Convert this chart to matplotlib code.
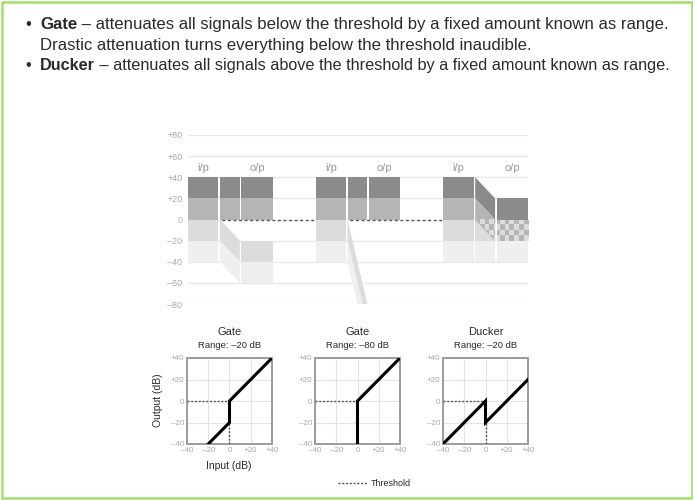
import numpy as np
import matplotlib
matplotlib.use('Agg')
import matplotlib.pyplot as plt
from matplotlib.patches import Polygon, Rectangle
from matplotlib.lines import Line2D

plt.rcParams['font.family'] = ['Liberation Sans', 'DejaVu Sans']

# ---- data ----
levels = [40, 20, 0, -20, -40]                       # input signal bands, dB
band_colors = ['#8b8b8b', '#b5b5b5', '#dcdcdc', '#efefef']
threshold = 0
modes = ['Gate', 'Gate', 'Ducker']
ranges = [-20, -80, -20]
main_ticks = [80, 60, 40, 20, 0, -20, -40, -60, -80]
small_ticks = [-40, -20, 0, 20, 40]
bullets = [
    ('Gate', ' \u2013 attenuates all signals below the threshold by a fixed amount known as range.'),
    (None, 'Drastic attenuation turns everything below the threshold inaudible.'),
    ('Ducker', ' \u2013 attenuates all signals above the threshold by a fixed amount known as range.'),
]

W, H = 693, 500
TXT = '#2b2b2b'
GREY = '#a8a8a8'


def box(l, t, r, b):
    return [l / W, 1 - b / H, (r - l) / W, (b - t) / H]


def fmt(v):
    if v > 0:
        return '+%d' % v
    if v < 0:
        return '\u2013%d' % -v
    return '0'


def shift(mode, rng, lo, hi):
    if mode == 'Gate' and hi <= threshold:
        return lo + rng, hi + rng
    if mode == 'Ducker' and lo >= threshold:
        return lo + rng, hi + rng
    return lo, hi


fig = plt.figure(figsize=(W / 100, H / 100), dpi=100)
fig.add_artist(Rectangle((1.5 / W, 2.5 / H), 690 / W, 496 / H, transform=fig.transFigure,
                         fill=False, edgecolor='#a3e06a', lw=1.8))

# ---- bullet text, each full line fitted to the reference width ----
renderer = fig.canvas.get_renderer()


def put_line(bold, rest, base, fs):
    made = []
    y = 1 - base / H
    x = 40 / W
    if bold:
        made.append(fig.text(28 / W, y, '\u2022', fontsize=fs, color=TXT, ha='center', va='baseline'))
        tb = fig.text(x, y, bold, fontsize=fs, color=TXT, weight='bold', va='baseline')
        made.append(tb)
        x = fig.transFigure.inverted().transform((tb.get_window_extent(renderer).x1, 0))[0]
    made.append(fig.text(x, y, rest, fontsize=fs, color=TXT, va='baseline'))
    return made


fs_used = 11
for (bold, rest), base in zip(bullets, [29, 50, 70]):
    if bold:
        trial = put_line(bold, rest, base, 11)
        right = trial[-1].get_window_extent(renderer).x1
        for t in trial:
            t.remove()
        fs_used = 11 * (667 - 40) / (right - 40)
    put_line(bold, rest, base, fs_used)

# ---- main level diagram ----
ax = fig.add_axes(box(188, 135, 528, 304))
group_x = [0, 128, 256]
ip, tr, op = (0, 30.5), (32, 52), (53.5, 85)
cell_x, cell_y = 5, 4.7

for x0, mode, rng in zip(group_x, modes, ranges):
    bands = []
    for i, c in enumerate(band_colors):
        lo, hi = levels[i + 1], levels[i]
        lo2, hi2 = shift(mode, rng, lo, hi)
        bands.append((lo, hi, lo2, hi2, c))
    ax.text(x0 + sum(ip) / 2, 49, 'i/p', ha='center', va='center', fontsize=8, color='#999999')
    ax.text(x0 + sum(op) / 2, 49, 'o/p', ha='center', va='center', fontsize=8, color='#999999')
    # unchanged bands first, moved bands on top of them
    order = sorted(bands, key=lambda b: b[0] != b[2])
    for lo, hi, lo2, hi2, c in order:
        ax.add_patch(Rectangle((x0 + ip[0], lo), ip[1] - ip[0], hi - lo, color=c, lw=0, zorder=2))
        p_tr = Polygon([(x0 + tr[0], hi), (x0 + tr[1], hi2), (x0 + tr[1], lo2), (x0 + tr[0], lo)],
                       closed=True, color=c, lw=0, zorder=2)
        p_op = Rectangle((x0 + op[0], lo2), op[1] - op[0], hi2 - lo2, color=c, lw=0, zorder=2)
        ax.add_patch(p_tr)
        ax.add_patch(p_op)
        if lo == lo2:
            continue
        # where a moved band lands on an unchanged one -> checker
        for ulo, uhi, ulo2, uhi2, uc in bands:
            if ulo != ulo2:
                continue
            y0, y1 = max(ulo, min(lo, lo2)), min(uhi, max(hi, hi2))
            if y1 <= y0:
                continue
            x_a, x_b = x0 + tr[0], x0 + op[1]
            nx = int(round((x_b - x_a) / cell_x))
            ny = int(round((y1 - y0) / cell_y))
            iy, ix = np.indices((ny, nx))
            rgb = np.array([matplotlib.colors.to_rgb(c), matplotlib.colors.to_rgb(uc)])
            img = rgb[(ix + iy) % 2]
            for patch in (p_tr, p_op):
                im = ax.imshow(img, extent=[x_a, x_b, y0, y1], aspect='auto',
                               interpolation='nearest', zorder=2.5)
                im.set_clip_path(patch)

# threshold line between the bars
ax.hlines(threshold, group_x[0] + tr[0] + 2, group_x[1], colors='#555555', lw=1,
          linestyles=(0, (2, 2)), zorder=3)
ax.hlines(threshold, group_x[1] + tr[0] + 2, group_x[2], colors='#555555', lw=1,
          linestyles=(0, (2, 2)), zorder=3)

ax.set_xlim(0, 341)
ax.set_ylim(-80, 80)
ax.set_yticks(main_ticks)
ax.set_yticklabels([fmt(v) for v in main_ticks])
ax.set_xticks([])
ax.yaxis.grid(True, color='#e9e9e9', lw=1)
ax.set_axisbelow(True)
for s in ax.spines.values():
    s.set_visible(False)
ax.tick_params(axis='y', length=0, pad=4, labelsize=6.5, labelcolor=GREY)

# ---- transfer curves ----
for k, (mode, rng) in enumerate(zip(modes, ranges)):
    l = 187 + 128 * k
    sax = fig.add_axes(box(l, 358, l + 85, 444))
    sax.set_xlim(-40, 40)
    sax.set_ylim(-40, 40)
    sax.set_xticks(small_ticks)
    sax.set_yticks(small_ticks)
    sax.set_xticklabels([fmt(v) for v in small_ticks])
    sax.set_yticklabels([fmt(v) for v in small_ticks])
    sax.grid(True, color='#e3e3e3', lw=0.8)
    sax.set_axisbelow(True)
    for s in sax.spines.values():
        s.set_color('#9c9c9c')
        s.set_linewidth(1.4)
    sax.tick_params(length=0, pad=2, labelsize=5.8, labelcolor=GREY)

    below = (lambda x: x + rng) if mode == 'Gate' else (lambda x: x)
    above = (lambda x: x) if mode == 'Gate' else (lambda x: x + rng)
    xs = [-40, threshold, threshold, 40]
    ys = [below(-40), below(threshold), above(threshold), above(40)]
    sax.plot([-40, threshold], [threshold, threshold], color='#555555', lw=1,
             ls=(0, (1.5, 1.2)), zorder=3)
    sax.plot([threshold, threshold], [-40, min(ys[1], ys[2])], color='#555555', lw=1,
             ls=(0, (1.5, 1.2)), zorder=3)
    sax.plot(xs, ys, color='black', lw=2.2, zorder=4, solid_joinstyle='miter')

    sax.text(0.5, 1 + 26 / 86, mode, transform=sax.transAxes, ha='center', va='center',
             fontsize=8, color=TXT)
    sax.text(0.5, 1 + 12 / 86, 'Range: \u2013%d dB' % -rng, transform=sax.transAxes,
             ha='center', va='center', fontsize=6.8, color=TXT)

fig.text(158 / W, 1 - 400 / H, 'Output (dB)', rotation=90, ha='center', va='center',
         fontsize=7.5, color=TXT)
fig.text(229 / W, 1 - 466 / H, 'Input (dB)', ha='center', va='center', fontsize=7.5, color=TXT)
fig.add_artist(Line2D([338 / W, 368 / W], [1 - 483 / H] * 2, transform=fig.transFigure,
                      color='#555555', lw=1, ls=(0, (1.5, 1.2))))
fig.text(371 / W, 1 - 483 / H, 'Threshold', ha='left', va='center', fontsize=6.5, color=TXT)

fig.savefig('out.png', dpi=100)
